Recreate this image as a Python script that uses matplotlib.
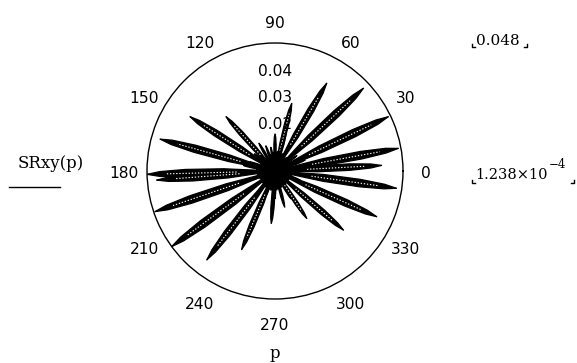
import numpy as np
import matplotlib
matplotlib.use("Agg")
import matplotlib.pyplot as plt
from matplotlib.lines import Line2D
from matplotlib.transforms import ScaledTranslation

# ---- data ----
spike_angles_deg = [10.4, 25.6, 43.1, 59.5, 76.1, 90.0, 74.0, 132.0, 147.4, 164.5,
                    181.5, 184.4, 198.7, 216.2, 232.5, 247.0, 266.0, 303.8, 319.2,
                    335.8, 351.9, 3.0, 285.0,
                    110.0, 120.0, 200.0, 300.0, 340.0, 20.0, 160.0, 230.0, 60.0,
                    100.0, 250.0, 5.0, 170.0, 35.0, 140.0, 270.0, 320.0]
spike_peaks = [0.0470, 0.0471, 0.0454, 0.0382, 0.0261, 0.0140, 0.0150, 0.0274, 0.0378, 0.0447,
               0.0480, 0.0445, 0.0475, 0.0480, 0.0420, 0.0320, 0.0197, 0.0214, 0.0339,
               0.0418, 0.0460, 0.0400, 0.0140,
               0.0100, 0.0120, 0.0120, 0.0120, 0.0100, 0.0120, 0.0100, 0.0100, 0.0100,
               0.0090, 0.0100, 0.0120, 0.0120, 0.0100, 0.0100, 0.0100, 0.0100]
# small lobes that make up the dark core
core_angles_deg = [0, 15, 30, 48, 65, 82, 95, 105, 125, 137, 152, 175, 190, 207, 222,
                   240, 258, 275, 292, 310, 328, 345]
core_peaks = [0.0065, 0.0070, 0.0060, 0.0068, 0.0072, 0.0075, 0.0070, 0.0065, 0.0060, 0.0066,
              0.0062, 0.0070, 0.0068, 0.0064, 0.0066, 0.0070, 0.0074, 0.0072, 0.0066, 0.0064,
              0.0062, 0.0066]
r_max = 0.048
r_min_text = "1.238\u00d710"
r_min_exp = "\u22124"
angle_ticks = list(range(0, 360, 30))
angle_labels = [str(a) for a in angle_ticks]
radial_labels = ["0.04", "0.03", "0.02"]
radial_label_values = [0.04, 0.03, 0.02]

# petal shape (style only)
petal_offsets = np.deg2rad([-6, -4, -2.5, -1.2, 0, 1.2, 2.5, 4, 6])
petal_profile = np.array([0.0, 0.4, 0.7, 0.9, 1.0, 0.9, 0.7, 0.4, 0.0])

W, H = 577, 363
fig = plt.figure(figsize=(W / 100, H / 100), dpi=100)
fig.patch.set_facecolor("white")

cx, cy, R = 275, 171, 128
ax = fig.add_axes([(cx - R) / W, (H - cy - R) / H, 2 * R / W, 2 * R / H], projection="polar")
ax.set_ylim(0, r_max)
ax.grid(False)
ax.set_yticks([])
ax.set_xticks([])
ax.spines["polar"].set_color("black")
ax.spines["polar"].set_linewidth(1.0)
ax.set_facecolor("white")

sans = ["DejaVu Sans"]
serif = ["DejaVu Serif"]

# angle labels around the circle (slightly below the centre, like the original)
lab_r = r_max * 151.0 / 128.0
down = ScaledTranslation(0, -3 / 100, fig.dpi_scale_trans)
for a, lab in zip(angle_ticks, angle_labels):
    ax.text(np.deg2rad(a), lab_r, lab, ha="center", va="center", fontsize=11.2,
            family=sans, color="black", transform=ax.transData + down, clip_on=False)

for a, p in zip(spike_angles_deg, spike_peaks):
    th = np.deg2rad(a) + petal_offsets
    ax.fill(th, p * petal_profile, facecolor="black", edgecolor="black", linewidth=0.9)
    ax.plot([np.deg2rad(a)] * 2, [0, p], color="black", linewidth=0.8)
    if p > 0.02:
        ax.plot([np.deg2rad(a)] * 2, [0.3 * p, 0.85 * p], color="white", linewidth=0.8,
                linestyle=(0, (1.2, 1.6)))

for a, p in zip(core_angles_deg, core_peaks):
    th = np.deg2rad(a) + np.deg2rad([-14, -8, 0, 8, 14])
    ax.fill(th, p * np.array([0.3, 0.8, 1.0, 0.8, 0.3]), facecolor="black", edgecolor="black",
            linewidth=1.0)

for lab, v in zip(radial_labels, radial_label_values):
    ax.text(np.pi / 2, v - 0.0026, lab, ha="center", va="center", fontsize=11.2,
            family=sans, color="black")

# left label with underline
fig.text(51 / W, 1 - 164 / H, "SRxy(p)", ha="center", va="center", fontsize=12, family=serif)
fig.add_artist(Line2D([9 / W, 60 / W], [1 - 187 / H, 1 - 187 / H], color="black", lw=1.0,
                      transform=fig.transFigure))
# bottom label
fig.text(cx / W, 1 - 353 / H, "p", ha="center", va="center", fontsize=12, family=serif)

# right range labels
fig.text(498 / W, 1 - 41 / H, f"{r_max:.3f}", ha="center", va="center", fontsize=11, family=serif)
fig.text(475 / W, 1 - 175 / H, r_min_text, ha="left", va="center", fontsize=10.5, family=serif)
fig.text(549 / W, 1 - 164 / H, r_min_exp, ha="left", va="center", fontsize=8.5, family=serif)


def corner(x, y, left=True):
    d = 3
    xs = [x, x, x + (d if left else -d)]
    ys = [y - d, y, y]
    fig.add_artist(Line2D([v / W for v in xs], [1 - v / H for v in ys], color="black", lw=1.0,
                          transform=fig.transFigure))


corner(472, 47, True)
corner(527, 47, False)
corner(472, 183, True)
corner(574, 183, False)

fig.savefig("out.png", dpi=100, facecolor="white")
